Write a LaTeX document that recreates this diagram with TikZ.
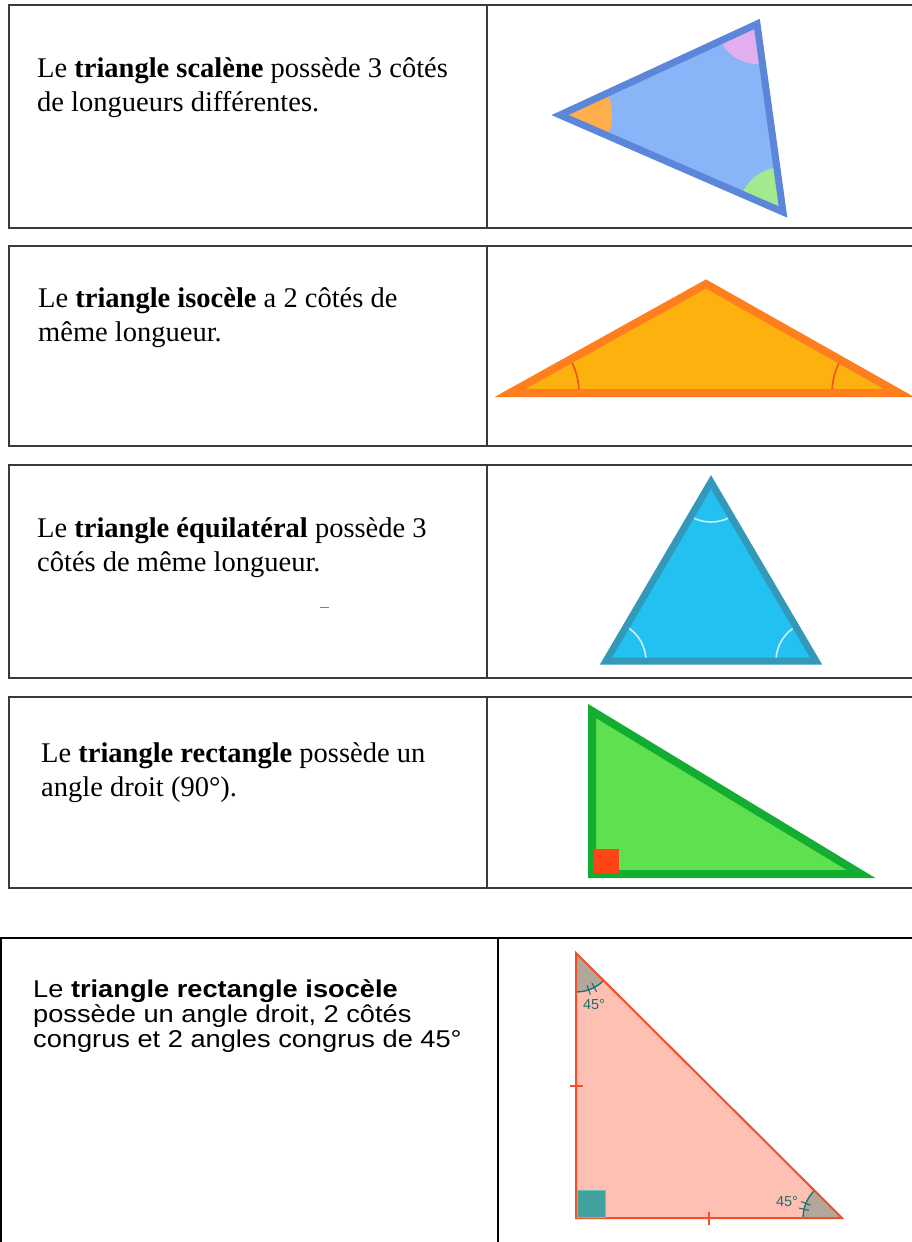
\documentclass[tikz,border=0pt]{standalone}
\usepackage{fontspec}
\setmainfont{Liberation Serif}
\setsansfont{Liberation Sans}
\newfontfamily\largesans{Liberation Sans}[FakeStretch=1.12]
\usetikzlibrary{calc}

\definecolor{cadre}{HTML}{3A3A3A}
\definecolor{scaTrait}{HTML}{5B86DA}
\definecolor{scaFond}{HTML}{8AB4F8}
\definecolor{scaOrange}{HTML}{FFAE4C}
\definecolor{scaRose}{HTML}{E1AEEE}
\definecolor{scaVert}{HTML}{A3EA8F}
\definecolor{isoTrait}{HTML}{FF7F1E}
\definecolor{isoFond}{HTML}{FDB10E}
\definecolor{isoArc}{HTML}{F2501C}
\definecolor{equTrait}{HTML}{3399BB}
\definecolor{equFond}{HTML}{23C1F1}
\definecolor{equArc}{HTML}{CFEFF8}
\definecolor{recTrait}{HTML}{13AE31}
\definecolor{recFond}{HTML}{5FE04E}
\definecolor{recCarre}{HTML}{FF4516}
\definecolor{riTrait}{HTML}{F2502A}
\definecolor{riFond}{HTML}{FEC0B2}
\definecolor{riCarre}{HTML}{3FA29E}
\definecolor{riCarreBord}{HTML}{6BC0BA}
\definecolor{riSecteur}{HTML}{B3A69A}
\definecolor{riArc}{HTML}{1F6E6E}

\begin{document}
\begin{tikzpicture}[x=1pt, y=-1pt,
  box/.style={draw=cadre, line width=2pt},
  txt/.style={anchor=base west, inner sep=0pt, text width=450pt, align=flush left,
              font=\fontsize{28.5}{34.5}\selectfont},
  txtsans/.style={txt, font=\largesans\fontsize{24.3}{25}\selectfont},
  tri/.style={line width=#1, line join=miter},
  deg/.style={font=\sffamily\fontsize{14.5}{16}\selectfont, text=riArc, inner sep=0pt},
]
\useasboundingbox (0,0) rectangle (912,1242);
\fill[white] (0,0) rectangle (912,1242);
\clip (0,0) rectangle (912,1242);

% Cadres
\draw[box] (9,5) rectangle (930,228);
\draw[box] (487,5) -- (487,228);
\draw[box] (9,246) rectangle (930,446);
\draw[box] (487,246) -- (487,446);
\draw[box] (9,465) rectangle (930,678);
\draw[box] (487,465) -- (487,678);
\draw[box] (9,697) rectangle (930,888);
\draw[box] (487,697) -- (487,888);
\draw[draw=black, line width=2.5pt] (1,938) rectangle (930,1260);
\draw[black, line width=1.2pt] (498,938) -- (498,1260);

% Textes
\node[txt] (t1) at (37,77) {Le \textbf{triangle scalène} possède 3 côtés\\de longueurs différentes.};
\node[txt] (t2) at (38,307) {Le \textbf{triangle isocèle} a 2 côtés de\\même longueur.};
\node[txt] (t3) at (37,537) {Le \textbf{triangle équilatéral} possède 3\\côtés de même longueur.};
\node[txt] (t4) at (41,762) {Le \textbf{triangle rectangle} possède un\\angle droit (90°).};
\node[txtsans] (t5) at (33,997) {Le \textbf{triangle rectangle isocèle}\\possède un angle droit, 2 côtés\\congrus et 2 angles congrus de 45°};
\draw[gray, line width=1pt] (320,607) -- (329,607);

% Scalène
\coordinate (s1) at (560,115);
\coordinate (s2) at (757,24);
\coordinate (s3) at (783,212);
\fill[scaFond] (s1) -- (s2) -- (s3) -- cycle;
\begin{scope}
  \clip (s1) -- (s2) -- (s3) -- cycle;
  \fill[scaOrange] (s1) circle (52);
  \fill[scaRose] (s2) circle (40);
  \fill[scaVert] (s3) circle (45);
\end{scope}
\draw[tri=7pt, scaTrait] (s1) -- (s2) -- (s3) -- cycle;

% Isocèle
\coordinate (i1) at (510,393);
\coordinate (i2) at (706,284);
\coordinate (i3) at (899,393);
\fill[isoFond] (i1) -- (i2) -- (i3) -- cycle;
\begin{scope}
  \clip (i1) -- (i2) -- (i3) -- cycle;
  \draw[isoArc, line width=1.6pt] (i1) circle (69);
  \draw[isoArc, line width=1.6pt] (i3) circle (67);
\end{scope}
\draw[tri=8pt, isoTrait] (i1) -- (i2) -- (i3) -- cycle;

% Equilatéral
\coordinate (e1) at (606,661);
\coordinate (e2) at (711,482);
\coordinate (e3) at (816,661);
\fill[equFond] (e1) -- (e2) -- (e3) -- cycle;
\begin{scope}
  \clip (e1) -- (e2) -- (e3) -- cycle;
  \draw[equArc, line width=1.6pt] (e1) circle (40);
  \draw[equArc, line width=1.6pt] (e2) circle (40);
  \draw[equArc, line width=1.6pt] (e3) circle (40);
\end{scope}
\draw[tri=7pt, equTrait] (e1) -- (e2) -- (e3) -- cycle;

% Rectangle
\coordinate (r1) at (592,711);
\coordinate (r2) at (592,874);
\coordinate (r3) at (861,874);
\fill[recFond] (r1) -- (r2) -- (r3) -- cycle;
\draw[tri=8pt, recTrait] (r1) -- (r2) -- (r3) -- cycle;
\fill[recCarre] (594,849) rectangle (619,873);

% Rectangle isocèle
\coordinate (q1) at (576,953);
\coordinate (q2) at (576,1218);
\coordinate (q3) at (842,1218);
\fill[riFond] (q1) -- (q2) -- (q3) -- cycle;
\begin{scope}
  \clip (q1) -- (q2) -- (q3) -- cycle;
  \fill[riSecteur] (q1) circle (39);
  \fill[riSecteur] (q3) circle (39);
  \draw[riArc, line width=1.3pt] (q1) circle (39);
  \draw[riArc, line width=1.3pt] (q3) circle (39);
\end{scope}
\draw[tri=2pt, riTrait] (q1) -- (q2) -- (q3) -- cycle;
\draw[riCarreBord, fill=riCarre, line width=0.8pt] (577,1190) rectangle (605,1217);
% codages
\draw[riArc, line width=1.1pt] ($(q1)+(62:34)$) -- ($(q1)+(62:44)$);
\draw[riArc, line width=1.1pt] ($(q1)+(71:34)$) -- ($(q1)+(71:44)$);
\draw[riArc, line width=1.1pt] ($(q3)+(193:34)$) -- ($(q3)+(193:44)$);
\draw[riArc, line width=1.1pt] ($(q3)+(202:34)$) -- ($(q3)+(202:44)$);
\draw[riTrait, line width=1.5pt] (570,1086) -- (583,1086);
\draw[riTrait, line width=1.5pt] (709,1212) -- (709,1225);
\node[deg] (a1) at (594,1004) {45°};
\node[deg] (a2) at (787,1201) {45°};
\end{tikzpicture}
\end{document}
